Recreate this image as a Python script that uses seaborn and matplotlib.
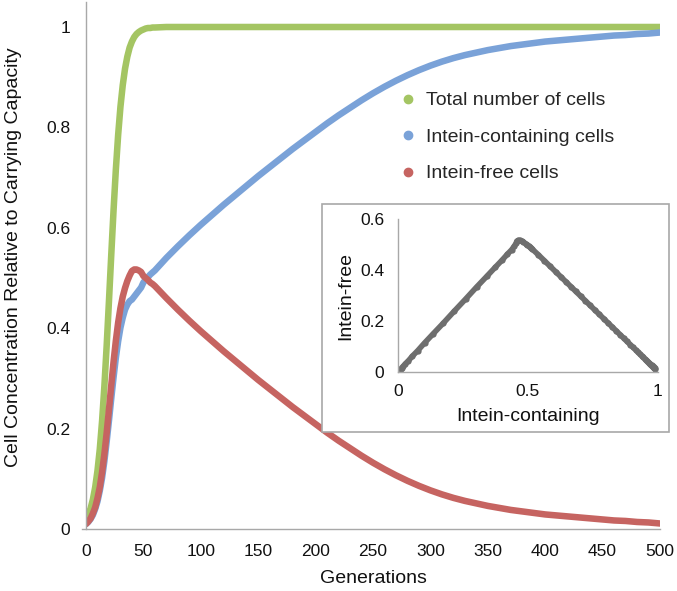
import matplotlib
matplotlib.use("Agg")
import matplotlib.pyplot as plt
from matplotlib.lines import Line2D
from matplotlib.patches import Rectangle
import seaborn as sns
import pandas as pd

# ---------------- data ----------------
generations = [0, 2, 4, 6, 8, 10, 12, 14, 16, 18, 20, 22, 24, 26, 28, 30,
               32, 34, 36, 38, 40, 42, 44, 46, 48, 50, 52, 54, 56, 58, 60,
               70, 80, 90, 100, 110, 120, 130, 140, 150, 160, 170, 180, 190,
               200, 210, 220, 230, 240, 250, 260, 270, 280, 290, 300, 310,
               320, 330, 340, 350, 360, 370, 380, 390, 400, 410, 420, 430,
               440, 450, 460, 470, 480, 490, 500]

total_cells = [0.020, 0.029, 0.041, 0.059, 0.083, 0.116, 0.159, 0.215, 0.284,
               0.365, 0.454, 0.546, 0.635, 0.716, 0.785, 0.841, 0.884, 0.917,
               0.941, 0.959, 0.971, 0.980, 0.986, 0.990, 0.993, 0.995, 0.997,
               0.998, 0.998, 0.999, 0.999,
               1.0, 1.0, 1.0, 1.0, 1.0, 1.0, 1.0, 1.0, 1.0, 1.0, 1.0, 1.0,
               1.0, 1.0, 1.0, 1.0, 1.0, 1.0, 1.0, 1.0, 1.0, 1.0, 1.0, 1.0,
               1.0, 1.0, 1.0, 1.0, 1.0, 1.0, 1.0, 1.0, 1.0, 1.0, 1.0, 1.0,
               1.0, 1.0, 1.0, 1.0, 1.0, 1.0, 1.0, 1.0]

intein_containing = [0.010, 0.014, 0.020, 0.028, 0.040, 0.055, 0.076, 0.102,
                     0.135, 0.174, 0.216, 0.260, 0.302, 0.341, 0.374, 0.401,
                     0.421, 0.437, 0.447, 0.454, 0.457, 0.463, 0.469, 0.475,
                     0.481, 0.491, 0.497, 0.502, 0.507, 0.511, 0.515,
                     0.540, 0.563, 0.585, 0.606, 0.626, 0.646, 0.665, 0.684,
                     0.703, 0.721, 0.739, 0.757, 0.774, 0.791, 0.808, 0.824,
                     0.839, 0.854, 0.868, 0.881, 0.893, 0.904, 0.914, 0.923,
                     0.931, 0.938, 0.944, 0.949, 0.954, 0.958, 0.962, 0.965,
                     0.968, 0.971, 0.973, 0.975, 0.977, 0.979, 0.981, 0.983,
                     0.984, 0.986, 0.987, 0.989]

intein_free = [0.010, 0.015, 0.021, 0.031, 0.043, 0.061, 0.083, 0.113, 0.149,
               0.191, 0.238, 0.286, 0.333, 0.375, 0.411, 0.440, 0.463, 0.480,
               0.494, 0.505, 0.514, 0.517, 0.517, 0.515, 0.512, 0.504, 0.500,
               0.496, 0.491, 0.488, 0.484,
               0.460, 0.437, 0.415, 0.394, 0.374, 0.354, 0.335, 0.316, 0.297,
               0.279, 0.261, 0.243, 0.226, 0.209, 0.192, 0.176, 0.161, 0.146,
               0.132, 0.119, 0.107, 0.096, 0.086, 0.077, 0.069, 0.062, 0.056,
               0.051, 0.046, 0.042, 0.038, 0.035, 0.032, 0.029, 0.027, 0.025,
               0.023, 0.021, 0.019, 0.017, 0.016, 0.014, 0.013, 0.011]

series_names = ["Total number of cells", "Intein-containing cells", "Intein-free cells"]
series_colors = ["#A4C563", "#7AA2D8", "#C66461"]

x_ticks = [0, 50, 100, 150, 200, 250, 300, 350, 400, 450, 500]
y_ticks = [0, 0.2, 0.4, 0.6, 0.8, 1.0]
y_tick_labels = ["0", "0.2", "0.4", "0.6", "0.8", "1"]
inset_x_ticks = [0, 0.5, 1]
inset_x_labels = ["0", "0.5", "1"]
inset_y_ticks = [0, 0.2, 0.4, 0.6]
inset_y_labels = ["0", "0.2", "0.4", "0.6"]

# ---------------- build long table ----------------
df = pd.DataFrame({
    "Generations": generations * 3,
    "value": total_cells + intein_containing + intein_free,
    "series": ([series_names[0]] * len(generations)
               + [series_names[1]] * len(generations)
               + [series_names[2]] * len(generations)),
})
inset_df = pd.DataFrame({"containing": intein_containing, "free": intein_free})

sns.set_style("white")
plt.rcParams["font.family"] = ["Liberation Sans", "DejaVu Sans"]

fig = plt.figure(figsize=(6.77, 5.91), dpi=100)
W, H = 677, 591

def fig_rect(x0, y0, x1, y1):
    return [x0 / W, 1 - y1 / H, (x1 - x0) / W, (y1 - y0) / H]

axis_gray = "#A8A8A8"

# ---------------- main axes ----------------
ax = fig.add_axes(fig_rect(86, 1.9, 660, 529))
sns.lineplot(data=df, x="Generations", y="value", hue="series",
             hue_order=series_names, palette=series_colors,
             linewidth=4.7, legend=False, ax=ax, sort=False)
ax.set_xlim(0, 500)
ax.set_ylim(0, 1.05)
ax.set_xticks(x_ticks)
ax.set_yticks(y_ticks)
ax.set_yticklabels(y_tick_labels)
for s in ["top", "right"]:
    ax.spines[s].set_visible(False)
for s in ["left", "bottom"]:
    ax.spines[s].set_color(axis_gray)
    ax.spines[s].set_linewidth(1.0)
ax.spines["bottom"].set_bounds(-3.5, 500)
ax.spines["bottom"].set_clip_on(False)
ax.tick_params(axis="both", which="major", direction="out", length=4.5,
               width=1.0, color=axis_gray, labelsize=12.5, labelcolor="#111111")
ax.tick_params(axis="y", pad=7)
ax.tick_params(axis="x", pad=6.5)
ax.set_xlabel("Generations", fontsize=14, color="#111111")
ax.set_ylabel("Cell Concentration Relative to Carrying Capacity",
              fontsize=14, color="#111111")
ax.xaxis.set_label_coords(0.5, -0.078)
ax.yaxis.set_label_coords(-0.111, 0.515)

handles = [Line2D([], [], marker="o", linestyle="", markersize=6,
                  markerfacecolor=c, markeredgecolor=c) for c in series_colors]
ax.legend(handles, series_names, loc="upper left",
          bbox_to_anchor=(392 / W, 1 - 86 / H), bbox_transform=fig.transFigure,
          frameon=False, fontsize=14, handlelength=1.0, handletextpad=0.45,
          labelspacing=0.97, borderaxespad=0, borderpad=0.3)

# ---------------- inset ----------------
box = Rectangle((322 / W, 1 - 432 / H), (669 - 322) / W, (432 - 204) / H,
                transform=fig.transFigure, facecolor="white",
                edgecolor=axis_gray, linewidth=1.2, zorder=3)
fig.patches.append(box)

iax = fig.add_axes(fig_rect(398, 219.3, 658, 371.7))
iax.set_zorder(5)
iax.patch.set_alpha(0)
sns.lineplot(data=inset_df, x="containing", y="free", sort=False,
             color="#6E6E6E", linewidth=4.0, marker="o", markersize=4.5,
             markeredgewidth=0, ax=iax)
iax.set_xlim(0, 1)
iax.set_ylim(0, 0.6)
iax.set_xticks(inset_x_ticks)
iax.set_xticklabels(inset_x_labels)
iax.set_yticks(inset_y_ticks)
iax.set_yticklabels(inset_y_labels)
for s in ["top", "right"]:
    iax.spines[s].set_visible(False)
for s in ["left", "bottom"]:
    iax.spines[s].set_color(axis_gray)
    iax.spines[s].set_linewidth(1.0)
iax.tick_params(axis="both", direction="out", length=4, width=1.0,
                color=axis_gray, labelsize=12.5, labelcolor="#111111")
iax.tick_params(axis="y", pad=6)
iax.tick_params(axis="x", pad=5)
iax.set_xlabel("Intein-containing", fontsize=14, color="#111111", labelpad=6)
iax.set_ylabel("Intein-free", fontsize=14, color="#111111", labelpad=4)

fig.savefig("out.png", dpi=100)
